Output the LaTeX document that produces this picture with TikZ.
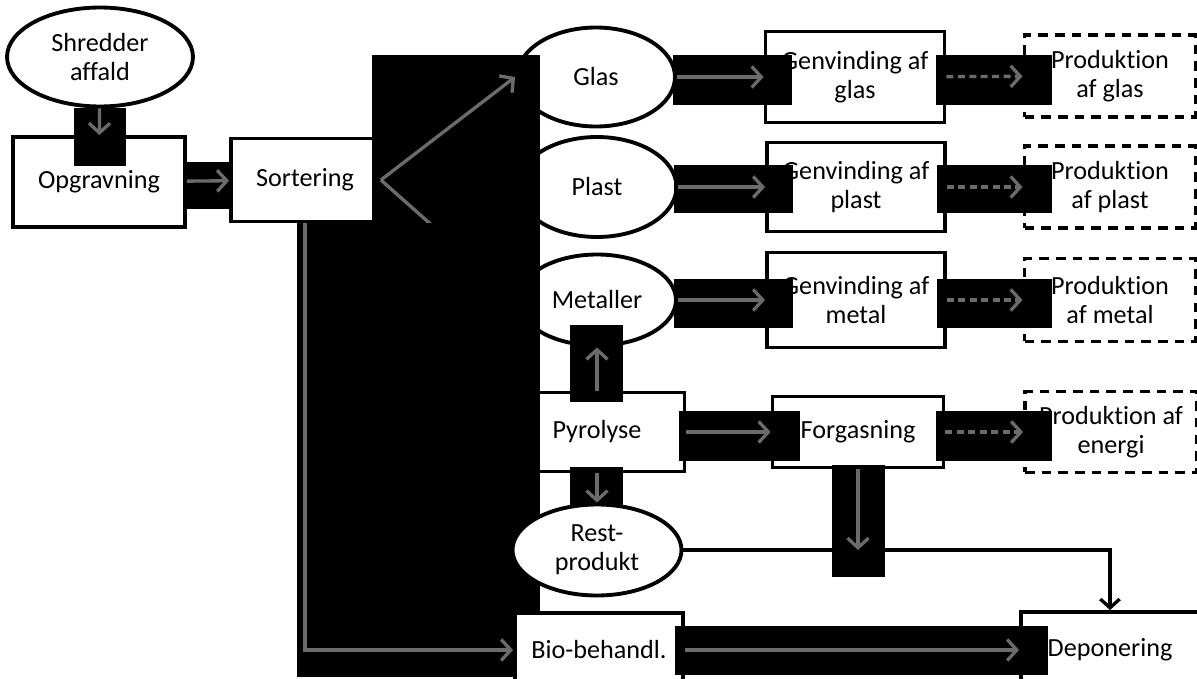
\documentclass[tikz,border=0pt]{standalone}
\usepackage{fontspec}
\setmainfont{Carlito}[Ligatures=NoCommon]
\usetikzlibrary{positioning}
\usetikzlibrary{shapes.geometric}
\usetikzlibrary{arrows.meta}

\begin{document}
\begin{tikzpicture}[x=0.02cm, y=-0.02cm,
		every node/.style={font=\fontsize{14.9}{16.4}\selectfont, align=center, inner sep=0pt},
		box/.style={rectangle, draw, line width=2.2pt, fill=white},
		oval/.style={ellipse, draw, line width=2.2pt, fill=white},
		plan/.style={rectangle, draw, line width=2.2pt, fill=white, dash pattern=on 5.5pt off 4pt},
		glow/.style={fill=black},
		flow/.style={draw=black!58, line width=1.9pt, -{Straight Barb[length=5.5pt,width=12pt]}},
		dflow/.style={flow, dash pattern=on 4pt off 2.5pt},
		solidline/.style={draw, line width=1.9pt, -{Straight Barb[length=5pt,width=11pt]}},
		]
		\useasboundingbox (0,0) rectangle (1197,679);
		
		\node[oval, minimum width=3.72cm, minimum height=1.98cm]	(shred)	at (100,57)		{Shredder\\affald};
		\node[box, minimum width=3.44cm, minimum height=1.8cm]		(opgr)	at (99,182)		{Opgravning};
		\node[box, minimum width=2.96cm, minimum height=1.66cm]		(sort)	at (305,180)	{Sortering};
		
		\node[oval, minimum width=3.16cm, minimum height=1.98cm]	(glas)	at (596,77)		{Glas};
		\node[oval, minimum width=3.18cm, minimum height=2cm]		(plast)	at (597,187)	{Plast};
		\node[oval, minimum width=3.16cm, minimum height=1.82cm]	(metal)	at (597,300)	{Metaller};
		
		\node[box, minimum width=3.58cm, minimum height=1.82cm]		(gglas)		at (855,77)		{Genvinding af\\glas};
		\node[box, minimum width=3.56cm, minimum height=1.78cm]		(gplast)	at (856,187)	{Genvinding af\\plast};
		\node[box, minimum width=3.56cm, minimum height=1.9cm]		(gmetal)	at (856,300)	{Genvinding af\\metal};
		
		\node[plan, minimum width=3.42cm, minimum height=1.64cm]	(pglas)		at (1110,76)	{Produktion\\af glas};
		\node[plan, minimum width=3.42cm, minimum height=1.64cm]	(pplast)	at (1110,187)	{Produktion\\af plast};
		\node[plan, minimum width=3.42cm, minimum height=1.66cm]	(pmetal)	at (1110,300)	{Produktion\\af metal};
		
		\node[box, minimum width=3.5cm, minimum height=1.58cm]		(pyro)		at (597,432)	{Pyrolyse};
		\node[box, minimum width=3.42cm, minimum height=1.42cm]		(forg)		at (858,432)	{Forgasning};
		\node[plan, minimum width=3.44cm, minimum height=1.62cm]	(penergi)	at (1111,432)	{Produktion af\\energi};
		\node[box, minimum width=3.56cm, minimum height=1.52cm]		(depo)		at (1110,650)	{Deponering};
		
		% skygger bag pilene
		\fill[glow]	(74,108)	rectangle	(126,166);
		\fill[glow]	(185,162)	rectangle	(232,209);
		\fill[glow]	(372,55)	rectangle	(540,223);
		\draw[flow]	(shred)		--	(opgr);
		\draw[flow]	(opgr)		--	(sort);
		\draw[flow]	(sort.east)	--	(glas.west);
		\draw[flow]	(sort.east)	--	(metal.west);
		
		\fill[glow]	(297,223)	rectangle	(540,677);
		\node[oval, minimum width=3.38cm, minimum height=1.82cm]	(rest)	at (597,550)	{Rest-\\produkt};
		\node[box, minimum width=3.36cm, minimum height=1.48cm]		(bio)	at (599,650)	{Bio-behandl.};
		\draw[flow]	(sort)		|-	(bio);
		
		\fill[glow]	(673,55)	rectangle	(792,105);
		\fill[glow]	(674,165)	rectangle	(793,213);
		\fill[glow]	(674,279)	rectangle	(793,328);
		\fill[glow]	(936,55)	rectangle	(1052,105);
		\fill[glow]	(937,165)	rectangle	(1052,213);
		\fill[glow]	(937,279)	rectangle	(1052,328);
		\fill[glow]	(570,325)	rectangle	(623,402);
		\fill[glow]	(679,411)	rectangle	(800,461);
		\fill[glow]	(936,411)	rectangle	(1052,461);
		\fill[glow]	(570,467)	rectangle	(623,505);
		\fill[glow]	(675,626)	rectangle	(1048,675);
		
		\draw[flow]		(glas)		--	(gglas);
		\draw[flow]		(plast)		--	(gplast);
		\draw[flow]		(metal)		--	(gmetal);
		\draw[dflow]	(gglas)		--	(pglas);
		\draw[dflow]	(gplast)	--	(pplast);
		\draw[dflow]	(gmetal)	--	(pmetal);
		\draw[flow]		(pyro)		--	(metal);
		\draw[flow]		(pyro)		--	(forg);
		\draw[dflow]	(forg)		--	(penergi);
		\draw[flow]		(pyro)		--	(rest);
		\draw[flow]		(bio)		--	(depo);
		
		\draw[solidline]	(rest.east)	-|	(depo.north);
		\fill[glow]	(832,465)	rectangle	(885,577);
		\coordinate	(fjoin)	at	(forg.south |- rest.east);
		\draw[flow]	(forg)	--	(fjoin);
\end{tikzpicture}
\end{document}
